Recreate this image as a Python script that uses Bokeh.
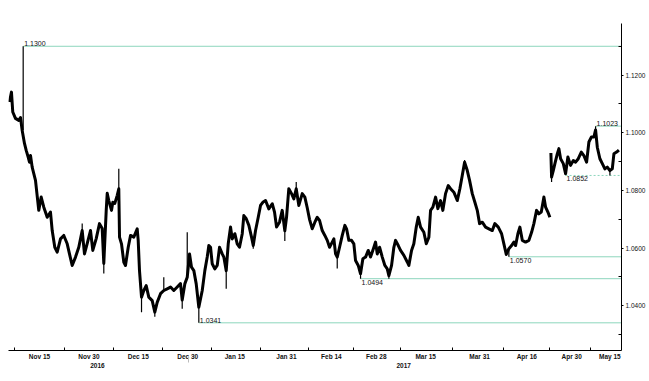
from bokeh.plotting import figure
from bokeh.models import Range1d, LinearAxis, FixedTicker, PrintfTickFormatter, Label
from bokeh.core.properties import value
from bokeh.embed import file_html
from bokeh.resources import INLINE

FONT = "Liberation Sans"

# EUR/USD, x = trading days since Fri 4 Nov 2016
day_a = [0.32, 0.76, 1.05, 1.65, 2.39, 2.77, 3.15, 3.66, 4.04, 4.48, 4.77, 5.00, 5.37, 6.11, 6.84, 7.38,
         7.96, 8.72, 9.45, 9.83, 10.41, 10.94, 11.68, 12.41, 13.17, 13.68, 14.28, 15.02, 15.75, 16.51,
         17.02, 17.62, 18.36, 18.87, 19.63, 20.36, 20.96, 21.32, 21.86, 22.08, 22.43, 23.04, 23.33,
         23.77, 24.31, 24.66, 24.82, 25.26, 25.78, 26.15, 26.76, 27.27, 28.00, 28.76, 28.98, 29.27,
         29.72, 30.23, 30.76, 31.34, 32.10, 32.68, 33.21, 33.95, 34.68, 35.44, 36.18, 36.91, 37.67,
         38.40, 38.78, 39.36, 39.90, 40.41, 40.85, 41.37, 41.90, 42.48, 43.24, 43.82, 44.35, 44.71,
         45.09, 45.46, 46.04, 46.58, 47.09, 47.69, 48.05, 48.58, 49.03, 49.54, 49.92, 50.50, 51.03,
         51.54, 52.15, 52.50, 53.04, 53.62, 54.22, 54.60, 55.11, 55.71, 56.22, 56.73, 57.34, 58.07,
         58.83, 59.34, 59.79, 60.45, 61.05, 61.63, 62.01, 62.52, 63.13, 63.64, 64.17, 64.75, 65.51,
         66.09, 66.62, 67.13, 67.74, 68.32, 68.85, 69.36, 69.96, 70.54, 71.08, 71.59, 72.19, 72.55,
         72.93, 73.30, 73.82, 74.42, 75.00, 75.38, 75.89, 76.49, 77.00, 77.38, 77.98, 78.49, 79.01,
         79.61, 80.21, 80.72, 81.46, 81.83, 82.21, 82.73, 83.33, 83.91, 84.44, 84.80, 85.40, 85.91,
         86.29, 86.89, 87.40, 88.14, 88.89, 89.25, 89.85, 90.36, 90.90, 91.34, 91.86, 92.59, 93.13,
         93.71, 94.08, 94.60, 95.20, 95.71, 96.31, 96.82, 97.42, 98.03, 98.54, 99.27, 100.03, 100.61,
         101.14, 101.66, 102.26, 102.77, 103.37, 103.95, 104.48, 105.00, 105.60, 106.33, 107.07,
         107.83, 108.40, 109.16, 109.90, 110.41, 110.94, 111.52, 112.12, 112.64, 113.02, 113.53,
         113.97, 114.51, 115.24, 115.98, 116.58, 117.09, 117.69, 118.20, 118.74, 119.32, 119.70,
         120.21, 120.65]
price_a = [1.1107, 1.1141, 1.1072, 1.1050, 1.1043, 1.1053, 1.1008, 1.0963, 1.0939, 1.0916, 1.0898,
           1.0921, 1.0881, 1.0835, 1.0731, 1.0777, 1.0742, 1.0707, 1.0725, 1.0661, 1.0603, 1.0586,
           1.0632, 1.0644, 1.0615, 1.0580, 1.0540, 1.0569, 1.0603, 1.0661, 1.0580, 1.0616, 1.0661,
           1.0592, 1.0633, 1.0685, 1.0668, 1.0547, 1.0731, 1.0790, 1.0765, 1.0731, 1.0759, 1.0755,
           1.0783, 1.0806, 1.0638, 1.0615, 1.0551, 1.0540, 1.0603, 1.0644, 1.0638, 1.0667, 1.0627,
           1.0522, 1.0430, 1.0453, 1.0470, 1.0430, 1.0418, 1.0378, 1.0412, 1.0442, 1.0453, 1.0459,
           1.0465, 1.0453, 1.0465, 1.0477, 1.0420, 1.0476, 1.0499, 1.0580, 1.0534, 1.0522, 1.0476,
           1.0395, 1.0453, 1.0522, 1.0569, 1.0609, 1.0603, 1.0546, 1.0528, 1.0540, 1.0603, 1.0580,
           1.0569, 1.0522, 1.0615, 1.0673, 1.0632, 1.0650, 1.0615, 1.0603, 1.0650, 1.0713, 1.0702,
           1.0679, 1.0638, 1.0609, 1.0661, 1.0707, 1.0748, 1.0759, 1.0765, 1.0736, 1.0754, 1.0725,
           1.0673, 1.0690, 1.0731, 1.0660, 1.0707, 1.0806, 1.0789, 1.0771, 1.0806, 1.0748, 1.0789,
           1.0777, 1.0740, 1.0700, 1.0667, 1.0690, 1.0707, 1.0696, 1.0661, 1.0644, 1.0627, 1.0603,
           1.0621, 1.0632, 1.0580, 1.0569, 1.0603, 1.0644, 1.0679, 1.0667, 1.0627, 1.0627, 1.0615,
           1.0557, 1.0540, 1.0511, 1.0563, 1.0569, 1.0592, 1.0569, 1.0603, 1.0621, 1.0580, 1.0603,
           1.0569, 1.0540, 1.0528, 1.0505, 1.0540, 1.0603, 1.0627, 1.0609, 1.0592, 1.0575, 1.0552,
           1.0540, 1.0592, 1.0615, 1.0673, 1.0707, 1.0673, 1.0655, 1.0615, 1.0638, 1.0731, 1.0742,
           1.0777, 1.0737, 1.0765, 1.0731, 1.0789, 1.0817, 1.0806, 1.0794, 1.0765, 1.0806, 1.0852,
           1.0898, 1.0869, 1.0835, 1.0789, 1.0759, 1.0731, 1.0685, 1.0690, 1.0673, 1.0667, 1.0661,
           1.0685, 1.0673, 1.0650, 1.0615, 1.0578, 1.0598, 1.0609, 1.0621, 1.0609, 1.0650, 1.0673,
           1.0627, 1.0621, 1.0627, 1.0655, 1.0685, 1.0731, 1.0719, 1.0725, 1.0777, 1.0742, 1.0725,
           1.0707]
# after the French election weekend gap
day_b = [120.88, 121.03, 121.41, 121.77, 122.30, 122.66, 123.04, 123.64, 124.15, 124.66, 125.26,
         125.87, 126.38, 126.98, 127.65, 128.23, 128.83, 129.34, 129.88, 130.45, 130.83, 131.21,
         131.79, 132.33, 132.90, 133.44, 134.02, 134.55, 134.91, 135.51, 136.02]
price_b = [1.0930, 1.0846, 1.0869, 1.0893, 1.0927, 1.0945, 1.0910, 1.0893, 1.0858, 1.0916, 1.0887,
           1.0904, 1.0898, 1.0910, 1.0933, 1.0921, 1.0898, 1.0968, 1.0985, 1.0985, 1.1010, 1.0950,
           1.0910, 1.0893, 1.0875, 1.0881, 1.0869, 1.0875, 1.0927, 1.0933, 1.0940]

# intraday wicks
wick_day = [3.37, 16.51, 21.32, 24.66, 29.72, 32.68, 34.68, 38.78, 39.90, 42.48, 48.58, 54.60,
            61.63, 64.17, 73.30, 78.49, 84.80, 101.66, 111.52, 121.03, 130.83, 134.02]
wick_low = [1.1008, 1.0640, 1.0512, 1.0780, 1.0378, 1.0362, 1.0450, 1.0390, 1.0490, 1.0341,
            1.0459, 1.0598, 1.0625, 1.0790, 1.0529, 1.0494, 1.0494, 1.0880, 1.0570, 1.0829,
            1.0990, 1.0852]
wick_high = [1.1300, 1.0685, 1.0560, 1.0875, 1.0440, 1.0400, 1.0499, 1.0430, 1.0655, 1.0420,
             1.0530, 1.0620, 1.0680, 1.0829, 1.0580, 1.0520, 1.0510, 1.0906, 1.0600, 1.0850,
             1.1023, 1.0875]

# support / resistance levels
levels = [1.1300, 1.1023, 1.0852, 1.0570, 1.0494, 1.0341]
level_from = [3.37, 130.83, 124.15, 111.52, 78.49, 42.48]
level_dashed = [False, False, True, False, False, False]
level_label_above = [True, True, False, False, False, True]

last_price = 1.0940

tick_day = [7, 18, 29, 40, 50.5, 62, 72, 82, 93, 105, 115.5, 125.5, 134]
tick_labels = ["Nov 15", "Nov 30", "Dec 15", "Dec 30", "Jan 15", "Jan 31", "Feb 14", "Feb 28",
               "Mar 15", "Mar 31", "Apr 16", "Apr 30", "May 15"]
year_day = [19.9, 88.1]
year_labels = ["2016", "2017"]
year_break = 40.1
y_ticks = [1.04, 1.06, 1.08, 1.10, 1.12]
y_minor = [1.03, 1.05, 1.07, 1.09, 1.11, 1.13]

X0, X1 = 0.1, 136.6
LEVEL_COLOR = "#8dd6bd"
TXT = "#111111"

p = figure(width=648, height=378, x_range=Range1d(X0, X1), y_range=Range1d(1.0245, 1.1379),
           output_backend="svg", toolbar_location=None,
           x_axis_location=None, y_axis_location=None,
           min_border_left=8, min_border_right=27, min_border_top=23, min_border_bottom=28)
p.outline_line_color = None
p.xgrid.visible = False
p.ygrid.visible = False

# level lines
for lv, x0, dashed in zip(levels, level_from, level_dashed):
    p.segment(x0=[x0], y0=[lv], x1=[X1], y1=[lv], line_color=LEVEL_COLOR, line_width=1,
              line_dash="2 2" if dashed else "solid")

# level labels
ab_x = [x for x, a in zip(level_from, level_label_above) if a]
ab_y = [l for l, a in zip(levels, level_label_above) if a]
be_x = [x for x, a in zip(level_from, level_label_above) if not a]
be_y = [l for l, a in zip(levels, level_label_above) if not a]
p.text(x=ab_x, y=ab_y, text=[f"{v:.4f}" for v in ab_y], x_offset=1, y_offset=0,
       text_baseline="bottom", text_align="left", text_font=value(FONT),
       text_font_size="7px", text_color=TXT)
p.text(x=be_x, y=be_y, text=[f"{v:.4f}" for v in be_y], x_offset=1, y_offset=1,
       text_baseline="top", text_align="left", text_font=value(FONT),
       text_font_size="7px", text_color=TXT)

# price series
p.segment(x0=wick_day, y0=wick_low, x1=wick_day, y1=wick_high, line_color="black", line_width=1.2)
p.line(day_a, price_a, line_color="black", line_width=3, line_join="round")
p.line(day_b, price_b, line_color="black", line_width=3, line_join="round")

# bottom date axis
minor_x = [tick_day[0] - 5.5] + [(a + b) / 2 for a, b in zip(tick_day[:-1], tick_day[1:])]
xax = LinearAxis(ticker=FixedTicker(ticks=tick_day, minor_ticks=minor_x),
                 major_label_overrides={t: s for t, s in zip(tick_day, tick_labels)})
xax.axis_line_color = "black"
xax.major_tick_in = 0
xax.major_tick_out = 0
xax.minor_tick_in = 3
xax.minor_tick_out = 0
xax.minor_tick_line_color = "black"
xax.major_label_standoff = 2
xax.major_label_text_font = FONT
xax.major_label_text_font_size = "6.5px"
xax.major_label_text_font_style = "bold"
xax.major_label_text_color = TXT
p.add_layout(xax, "below")

yrax = LinearAxis(ticker=FixedTicker(ticks=year_day, minor_ticks=[year_break]),
                  major_label_overrides={t: s for t, s in zip(year_day, year_labels)})
yrax.axis_line_color = None
yrax.major_tick_in = 0
yrax.major_tick_out = 0
yrax.minor_tick_in = 6
yrax.minor_tick_out = 0
yrax.minor_tick_line_color = "#bbbbbb"
yrax.major_label_standoff = 0
yrax.major_label_text_font = FONT
yrax.major_label_text_font_size = "6.5px"
yrax.major_label_text_font_style = "bold"
yrax.major_label_text_color = TXT
p.add_layout(yrax, "below")

# right price axis
yax = LinearAxis(ticker=FixedTicker(ticks=y_ticks, minor_ticks=y_minor),
                 formatter=PrintfTickFormatter(format="%.4f"))
yax.axis_line_color = "black"
yax.major_tick_in = 0
yax.major_tick_out = 2
yax.minor_tick_in = 3
yax.minor_tick_out = 0
yax.major_tick_line_color = "black"
yax.minor_tick_line_color = "black"
yax.major_label_standoff = 2
yax.major_label_text_font = FONT
yax.major_label_text_font_size = "6.5px"
yax.major_label_text_color = TXT
p.add_layout(yax, "right")

p.add_layout(Label(x=X1, y=last_price, x_offset=2, text=f"{last_price:.4f}", text_color="white",
                   text_font=FONT, text_font_size="6.5px", text_baseline="middle", text_align="left",
                   background_fill_color="black", padding=1))

open("out.html", "w").write(file_html(p, INLINE))
